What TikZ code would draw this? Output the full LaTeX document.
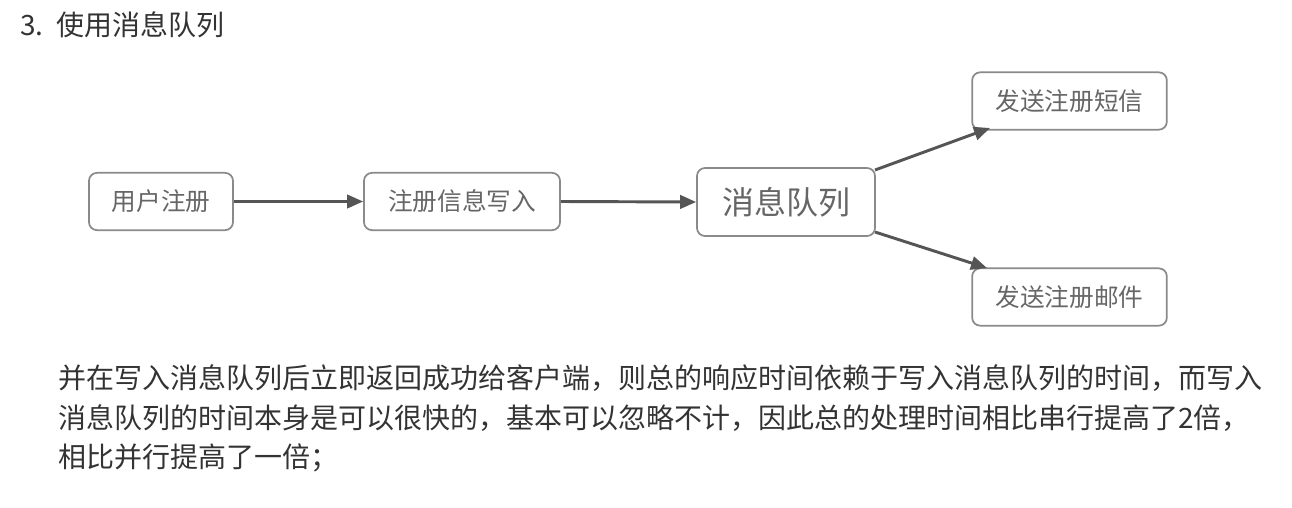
\documentclass[tikz,border=0pt]{standalone}
\usepackage{fontspec}
\setmainfont{Noto Sans CJK SC}
\usetikzlibrary{arrows.meta}
\definecolor{txt}{HTML}{333333}
\definecolor{boxtxt}{HTML}{666666}
\definecolor{boxline}{HTML}{8A8A8A}
\definecolor{arr}{HTML}{555555}
\tikzset{
  flowbox/.style={draw=boxline,line width=1.3pt,rounded corners=6pt,text=boxtxt,
    font=\fontsize{18.5pt}{20pt}\selectfont,inner sep=0pt,anchor=center},
  flowarrow/.style={draw=arr,line width=2.2pt,-{Triangle[length=12pt,width=10pt]}},
  para/.style={anchor=west,text=txt,font=\fontsize{21pt}{24pt}\selectfont,inner sep=0pt}
}
\begin{document}
\begin{tikzpicture}[x=0.75pt,y=-0.75pt]
\useasboundingbox (0,0) rectangle (1292,507);
\node[para] (title) at (20,25) {3.\ \ 使用消息队列};
\node[flowbox,minimum width=108pt,minimum height=43pt] (a) at (161,201.5) {用户注册};
\node[flowbox,minimum width=147pt,minimum height=43pt] (b) at (462,201.5) {注册信息写入};
\node[flowbox,minimum width=133.5pt,minimum height=51pt,font=\fontsize{24pt}{26pt}\selectfont] (c) at (786,202) {消息队列};
\node[flowbox,minimum width=146pt,minimum height=43pt] (d) at (1069.5,101) {发送注册短信};
\node[flowbox,minimum width=146pt,minimum height=43pt] (e) at (1069.5,297) {发送注册邮件};
\coordinate (c1) at (875,170);
\coordinate (d1) at (990,128);
\coordinate (c2) at (875,232);
\coordinate (e1) at (987,268);
\draw[flowarrow] (a.east) -- (b.west);
\draw[flowarrow] (b.east) -- (c.west);
\draw[flowarrow] (c1) -- (d1);
\draw[flowarrow] (c2) -- (e1);
\node[para] (p1) at (58,378) {并在写入消息队列后立即返回成功给客户端，则总的响应时间依赖于写入消息队列的时间，而写入};
\node[para] (p2) at (58,418) {消息队列的时间本身是可以很快的，基本可以忽略不计，因此总的处理时间相比串行提高了2倍，};
\node[para] (p3) at (58,458) {相比并行提高了一倍；};
\end{tikzpicture}
\end{document}
